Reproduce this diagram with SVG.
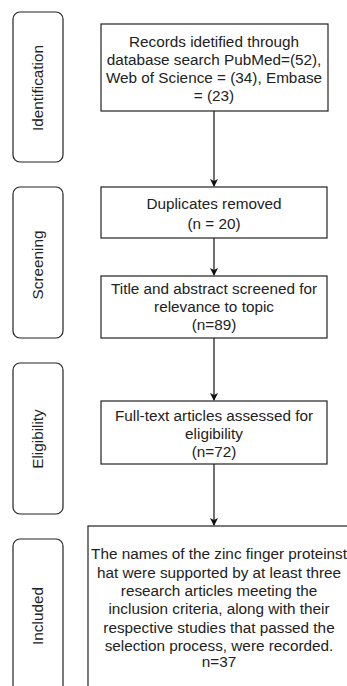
<svg xmlns="http://www.w3.org/2000/svg" width="347" height="686" viewBox="0 0 347 686">
<style>
.box{fill:#fff;stroke:#222;stroke-width:1.2}
.lbl{fill:#fff;stroke:#222;stroke-width:1.2}
.t{font-family:"Liberation Sans",Arial,sans-serif;font-size:15.3px;fill:#222;text-anchor:middle}
.c{stroke:#111;stroke-width:1.2;fill:none}
</style>
<defs>
<marker id="ah" markerWidth="8" markerHeight="8" refX="7" refY="4" orient="auto" markerUnits="userSpaceOnUse">
<path d="M0,0 L8,4 L0,8 L2,4 Z" fill="#111"/>
</marker>
</defs>
<rect width="347" height="686" fill="#fff"/>
<g id="stage-identification">
<rect class="lbl" x="13" y="12" width="50" height="150" rx="7"/>
<text class="t" transform="translate(43,88) rotate(-90)">Identification</text>
</g>
<g id="stage-screening">
<rect class="lbl" x="13" y="187" width="50" height="151" rx="7"/>
<text class="t" transform="translate(43,265) rotate(-90)">Screening</text>
</g>
<g id="stage-eligibility">
<rect class="lbl" x="13" y="363" width="50" height="151" rx="7"/>
<text class="t" transform="translate(43,439) rotate(-90)">Eligibility</text>
</g>
<g id="stage-included">
<rect class="lbl" x="13" y="539" width="50" height="160" rx="7"/>
<text class="t" transform="translate(43,616) rotate(-90)">Included</text>
</g>
<g id="connectors">
<line class="c" x1="214" y1="111" x2="214" y2="186" marker-end="url(#ah)"/>
<line class="c" x1="214" y1="238" x2="214" y2="275" marker-end="url(#ah)"/>
<line class="c" x1="214" y1="338" x2="214" y2="400" marker-end="url(#ah)"/>
<line class="c" x1="214" y1="464" x2="214" y2="525" marker-end="url(#ah)"/>
</g>
<g id="records">
<rect class="box" x="101" y="24" width="227" height="87"/>
<text class="t" x="214" y="47">Records idetified through</text>
<text class="t" x="214" y="65">database search PubMed=(52),</text>
<text class="t" x="214" y="83">Web of Science = (34), Embase</text>
<text class="t" x="214" y="100.5">= (23)</text>
</g>
<g id="duplicates">
<rect class="box" x="101" y="187" width="226" height="51"/>
<text class="t" x="214" y="208.5">Duplicates removed</text>
<text class="t" x="214" y="228.5">(n = 20)</text>
</g>
<g id="title-abstract">
<rect class="box" x="101" y="276" width="226" height="62"/>
<text class="t" x="214" y="293.5">Title and abstract screened for</text>
<text class="t" x="214" y="312">relevance to topic</text>
<text class="t" x="214" y="330">(n=89)</text>
</g>
<g id="fulltext">
<rect class="box" x="101" y="401" width="226" height="63"/>
<text class="t" x="214" y="420.5">Full-text articles assessed for</text>
<text class="t" x="214" y="438.5">eligibility</text>
<text class="t" x="214" y="457">(n=72)</text>
</g>
<g id="included">
<rect class="box" x="88" y="526" width="262" height="170"/>
<text class="t" x="219" y="558.5">The names of the zinc finger proteinst</text>
<text class="t" x="219" y="577.5">hat were supported by at least three</text>
<text class="t" x="219" y="595.5">research articles meeting the</text>
<text class="t" x="219" y="614">inclusion criteria, along with their</text>
<text class="t" x="219" y="632.5">respective studies that passed the</text>
<text class="t" x="219" y="651">selection process, were recorded.</text>
<text class="t" x="219" y="667">n=37</text>
</g>
</svg>
